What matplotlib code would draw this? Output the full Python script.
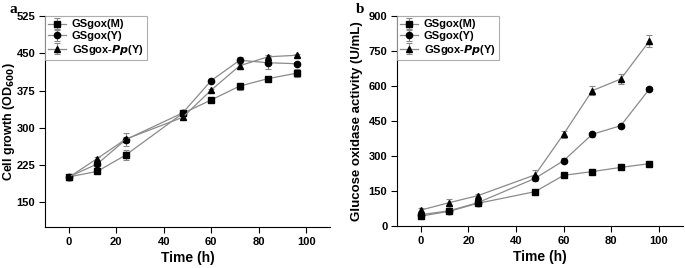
import matplotlib
matplotlib.use('Agg')
import matplotlib.pyplot as plt

plt.rcParams['font.family'] = ['Liberation Sans', 'DejaVu Sans']
plt.rcParams['font.weight'] = 'bold'
plt.rcParams['mathtext.default'] = 'bf'

time = [0, 12, 24, 48, 60, 72, 84, 96]
labels = ['GSgox(M)', 'GSgox(Y)', 'GSgox-$\\mathbfit{Pp}$(Y)']
markers = ['s', 'o', '^']

# panel a: cell growth
growth_m = [201, 212, 245, 329, 356, 384, 399, 410]
growth_y = [201, 227, 276, 330, 395, 436, 431, 429]
growth_pp = [200, 238, 277, 321, 376, 425, 443, 446]
growth_m_err = [4, 3, 10, 4, 3, 7, 3, 8]
growth_y_err = [3, 4, 13, 3, 3, 7, 12, 3]
growth_pp_err = [3, 3, 5, 4, 3, 6, 3, 3]

# panel b: glucose oxidase activity
gox_m = [42, 63, 97, 147, 217, 233, 251, 267]
gox_y = [48, 65, 100, 204, 280, 393, 430, 587]
gox_pp = [68, 100, 130, 219, 394, 580, 630, 793]
gox_m_err = [4, 4, 4, 4, 5, 5, 5, 5]
gox_y_err = [5, 5, 5, 10, 12, 10, 8, 8]
gox_pp_err = [10, 15, 8, 20, 15, 20, 20, 25]

fig = plt.figure(figsize=(6.85, 2.68), dpi=100)
ax1 = fig.add_axes([0.0657, 0.153, 0.416, 0.787])
ax2 = fig.add_axes([0.5796, 0.157, 0.417, 0.783])


def draw(ax, series, errs):
    for vals, err, mk, lab in zip(series, errs, markers, labels):
        ax.errorbar(time, vals, yerr=err, color='#8a8a8a', lw=0.9,
                    marker=mk, mfc='black', mec='black', ms=4.5,
                    ecolor='#8a8a8a', elinewidth=0.8, capsize=2, capthick=0.8,
                    label=lab)
    ax.spines['top'].set_visible(False)
    ax.spines['right'].set_visible(False)
    ax.set_xlim(-10, 110)
    ax.set_xticks([0, 20, 40, 60, 80, 100])
    ax.tick_params(labelsize=8, length=4, width=0.8, pad=3)
    for t in ax.get_xticklabels() + ax.get_yticklabels():
        t.set_fontweight('bold')
    ax.set_xlabel('Time (h)', fontsize=10, fontweight='bold', labelpad=3)
    leg = ax.legend(loc='upper left', fontsize=8, frameon=True, fancybox=False,
                    borderaxespad=0, handlelength=1.6, handletextpad=0.5,
                    labelspacing=0.15, borderpad=0.3)
    leg.get_frame().set_edgecolor('#999999')
    leg.get_frame().set_linewidth(0.8)


draw(ax1, [growth_m, growth_y, growth_pp], [growth_m_err, growth_y_err, growth_pp_err])
ax1.set_ylim(100, 525)
ax1.set_yticks([150, 225, 300, 375, 450, 525])
ax1.set_ylabel('Cell growth (OD$_{600}$)', fontsize=9, fontweight='bold')
ax1.yaxis.set_label_coords(-0.098, 0.5)

draw(ax2, [gox_m, gox_y, gox_pp], [gox_m_err, gox_y_err, gox_pp_err])
ax2.set_ylim(0, 900)
ax2.set_yticks([0, 150, 300, 450, 600, 750, 900])
ax2.set_ylabel('Glucose oxidase activity (U/mL)', fontsize=9.5, fontweight='bold', labelpad=4)

fig.text(0.014, 0.965, 'a', fontsize=11, fontweight='bold', family='Liberation Serif', va='center')
fig.text(0.519, 0.965, 'b', fontsize=11, fontweight='bold', family='Liberation Serif', va='center')

fig.savefig('out.png', dpi=100)
